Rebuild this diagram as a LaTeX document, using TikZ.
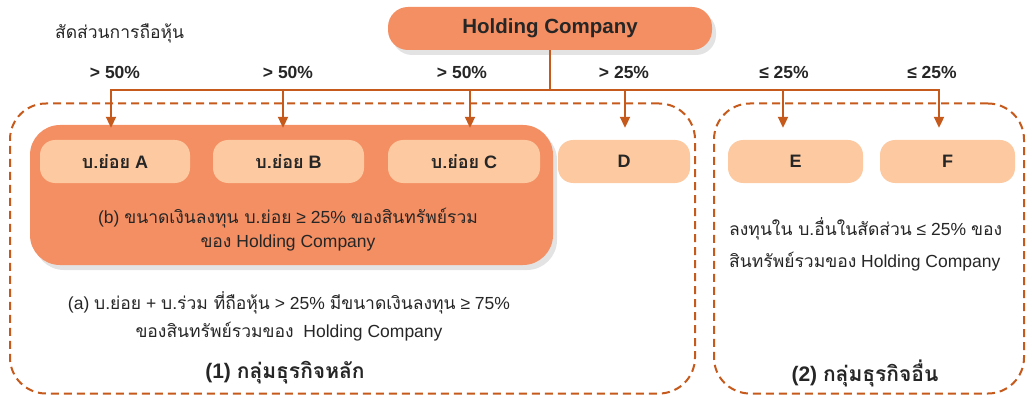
\documentclass[tikz,border=0pt]{standalone}
\usepackage{fontspec}
\setmainfont{Liberation Sans}
\newfontfamily\thaifont[Script=Thai]{Loma}
\newcommand\thx[1]{{\thaifont #1}}
\usetikzlibrary{arrows.meta,shadows,calc}
\definecolor{holdc}{HTML}{F48F63}
\definecolor{lightc}{HTML}{FDC9A0}
\definecolor{lnc}{HTML}{C65A1C}
\definecolor{txtc}{HTML}{262626}
\begin{document}
\begin{tikzpicture}[x=1pt,y=-1pt,
  font=\fontsize{17.5}{21}\selectfont, text=txtc,
  holdbox/.style={fill=holdc, rounded corners=20pt, inner sep=0pt,
    drop shadow={opacity=0.22, shadow xshift=4pt, shadow yshift=-5pt}},
  subbox/.style={fill=lightc, rounded corners=15pt, inner sep=0pt,
    minimum height=43pt, font=\bfseries\fontsize{18}{21}\selectfont},
  grp/.style={draw=lnc, line width=2pt, dash pattern=on 8pt off 5pt,
    rounded corners=36pt, inner sep=0pt},
  conn/.style={draw=lnc, line width=2pt},
  arr/.style={conn, -{Triangle[width=10pt,length=11pt]}},
  pct/.style={font=\bfseries\fontsize{17.5}{21}\selectfont},
  ttl/.style={font=\bfseries\fontsize{21}{24}\selectfont}]
\useasboundingbox (0,0) rectangle (1032,398);

% groups
\node[grp, minimum width=685pt, minimum height=290pt] (g1) at (352.5,248.5) {};
\node[grp, minimum width=310pt, minimum height=290pt] (g2) at (869,248.5) {};

% holding company
\node[holdbox, minimum width=324pt, minimum height=43pt,
  font=\bfseries\fontsize{20.5}{23}\selectfont] (hold) at (550,28.5) {Holding Company};

% big box
\node[holdbox, rounded corners=30pt, minimum width=523pt, minimum height=140pt] (big) at (291.5,195) {};

% sub boxes
\node[subbox, minimum width=150pt] (A) at (115,161.5) {\thx{บ.ย่อย} A};
\node[subbox, minimum width=151pt] (B) at (288.5,161.5) {\thx{บ.ย่อย} B};
\node[subbox, minimum width=152pt] (C) at (464,161.5) {\thx{บ.ย่อย} C};
\node[subbox, minimum width=132pt] (D) at (624,161.5) {D};
\node[subbox, minimum width=135pt] (E) at (795.5,161.5) {E};
\node[subbox, minimum width=135pt] (F) at (947.5,161.5) {F};

% connectors
\coordinate (bus) at (550,90);
\draw[conn] (hold.south) -- (bus);
\draw[arr] (bus) -| ([xshift=-4pt,yshift=12pt]A.north);
\draw[arr] (bus) -| ([xshift=-5.5pt,yshift=12pt]B.north);
\draw[arr] (bus) -| ([xshift=6pt,yshift=12pt]C.north);
\draw[arr] (bus) -| ([xshift=1pt,yshift=12pt]D.north);
\draw[arr] (bus) -| ([xshift=-12.5pt,yshift=12pt]E.north);
\draw[arr] (bus) -| ([xshift=-8.5pt,yshift=12pt]F.north);

% labels
\node[anchor=west, inner sep=0pt] (share) at (55,33) {\thx{สัดส่วนการถือหุ้น}};
\node[pct] (p1) at (115,72) {> 50\%};
\node[pct] (p2) at (288,72) {> 50\%};
\node[pct] (p3) at (462,72) {> 50\%};
\node[pct] (p4) at (624,72) {> 25\%};
\node[pct] (p5) at (784,72) {≤ 25\%};
\node[pct] (p6) at (932,72) {≤ 25\%};

\node[align=center] (tb) at (288,230) {(b) \thx{ขนาดเงินลงทุน บ.ย่อย} ≥ 25\% \thx{ของสินทรัพย์รวม}\\[3pt]
  \thx{ของ} Holding Company};
\node[align=left, anchor=west, inner sep=0pt] (t2) at (729,244) {\thx{ลงทุนใน บ.อื่นในสัดส่วน} ≤ 25\% \thx{ของ}\\[11pt]
  \thx{สินทรัพย์รวมของ} Holding Company};
\node[align=center] (ta) at (289,316) {(a) \thx{บ.ย่อย} + \thx{บ.ร่วม ที่ถือหุ้น} > 25\% \thx{มีขนาดเงินลงทุน} ≥ 75\%\\[7pt]
  \thx{ของสินทรัพย์รวมของ}\ \ Holding Company};
\node[ttl] (l1) at (285,373) {(1) \thx{กลุ่มธุรกิจหลัก}};
\node[ttl] (l2) at (865,373) {(2) \thx{กลุ่มธุรกิจอื่น}};
\end{tikzpicture}
\end{document}
